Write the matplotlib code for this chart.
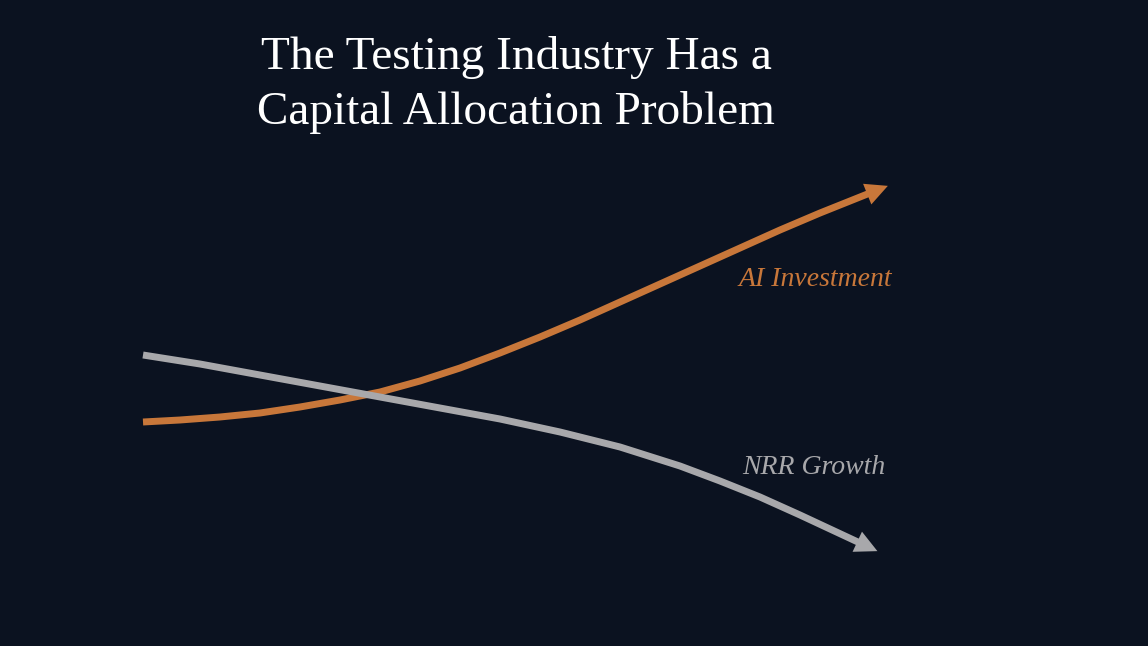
import matplotlib
matplotlib.use("Agg")
import matplotlib.pyplot as plt
import numpy as np

# Data (in chart units)
x_ai = [143, 180, 220, 260, 300, 340, 380, 420, 460, 500, 540, 580, 620, 660, 700, 740, 780, 820, 870]
y_ai = [422, 420, 417, 413, 407, 400, 392, 381, 368, 353, 337, 320, 302, 284, 266, 248, 230, 213, 193]
x_nrr = [143, 200, 260, 320, 380, 440, 500, 560, 620, 680, 720, 760, 800, 860]
y_nrr = [355, 364, 375, 386, 397, 408, 419, 432, 447, 466, 481, 497, 515, 543]
labels = ["AI Investment", "NRR Growth"]
title = "The Testing Industry Has a\nCapital Allocation Problem"

bg = "#0b1220"
orange = "#c8773a"
gray = "#a8a8ab"

fig = plt.figure(figsize=(11.48, 6.46), dpi=100, facecolor=bg)
ax = fig.add_axes([0, 0, 1, 1])
ax.set_facecolor(bg)
ax.set_xlim(0, 1148)
ax.set_ylim(646, 0)
ax.axis("off")

for xs, ys, c in [(x_ai, y_ai, orange), (x_nrr, y_nrr, gray)]:
    ax.plot(xs, ys, color=c, lw=5, solid_capstyle="butt", solid_joinstyle="round")
    dx, dy = xs[-1] - xs[-2], ys[-1] - ys[-2]
    n = np.hypot(dx, dy)
    ax.annotate("", xy=(xs[-1] + 22 * dx / n, ys[-1] + 22 * dy / n), xytext=(xs[-1] - 2 * dx / n, ys[-1] - 2 * dy / n),
                arrowprops=dict(arrowstyle="-|>,head_length=1.6,head_width=0.8", color=c, lw=0))

ax.text(892, 280, labels[0], color=orange, fontsize=20, style="italic", family="Liberation Serif", ha="right", va="center")
ax.text(885, 467, labels[1], color=gray, fontsize=20, style="italic", family="Liberation Serif", ha="right", va="center")
ax.text(516, 85, title, color="white", fontsize=34, family="Liberation Serif", ha="center", va="center", linespacing=1.35)

fig.savefig("out.png", dpi=100, facecolor=bg)
